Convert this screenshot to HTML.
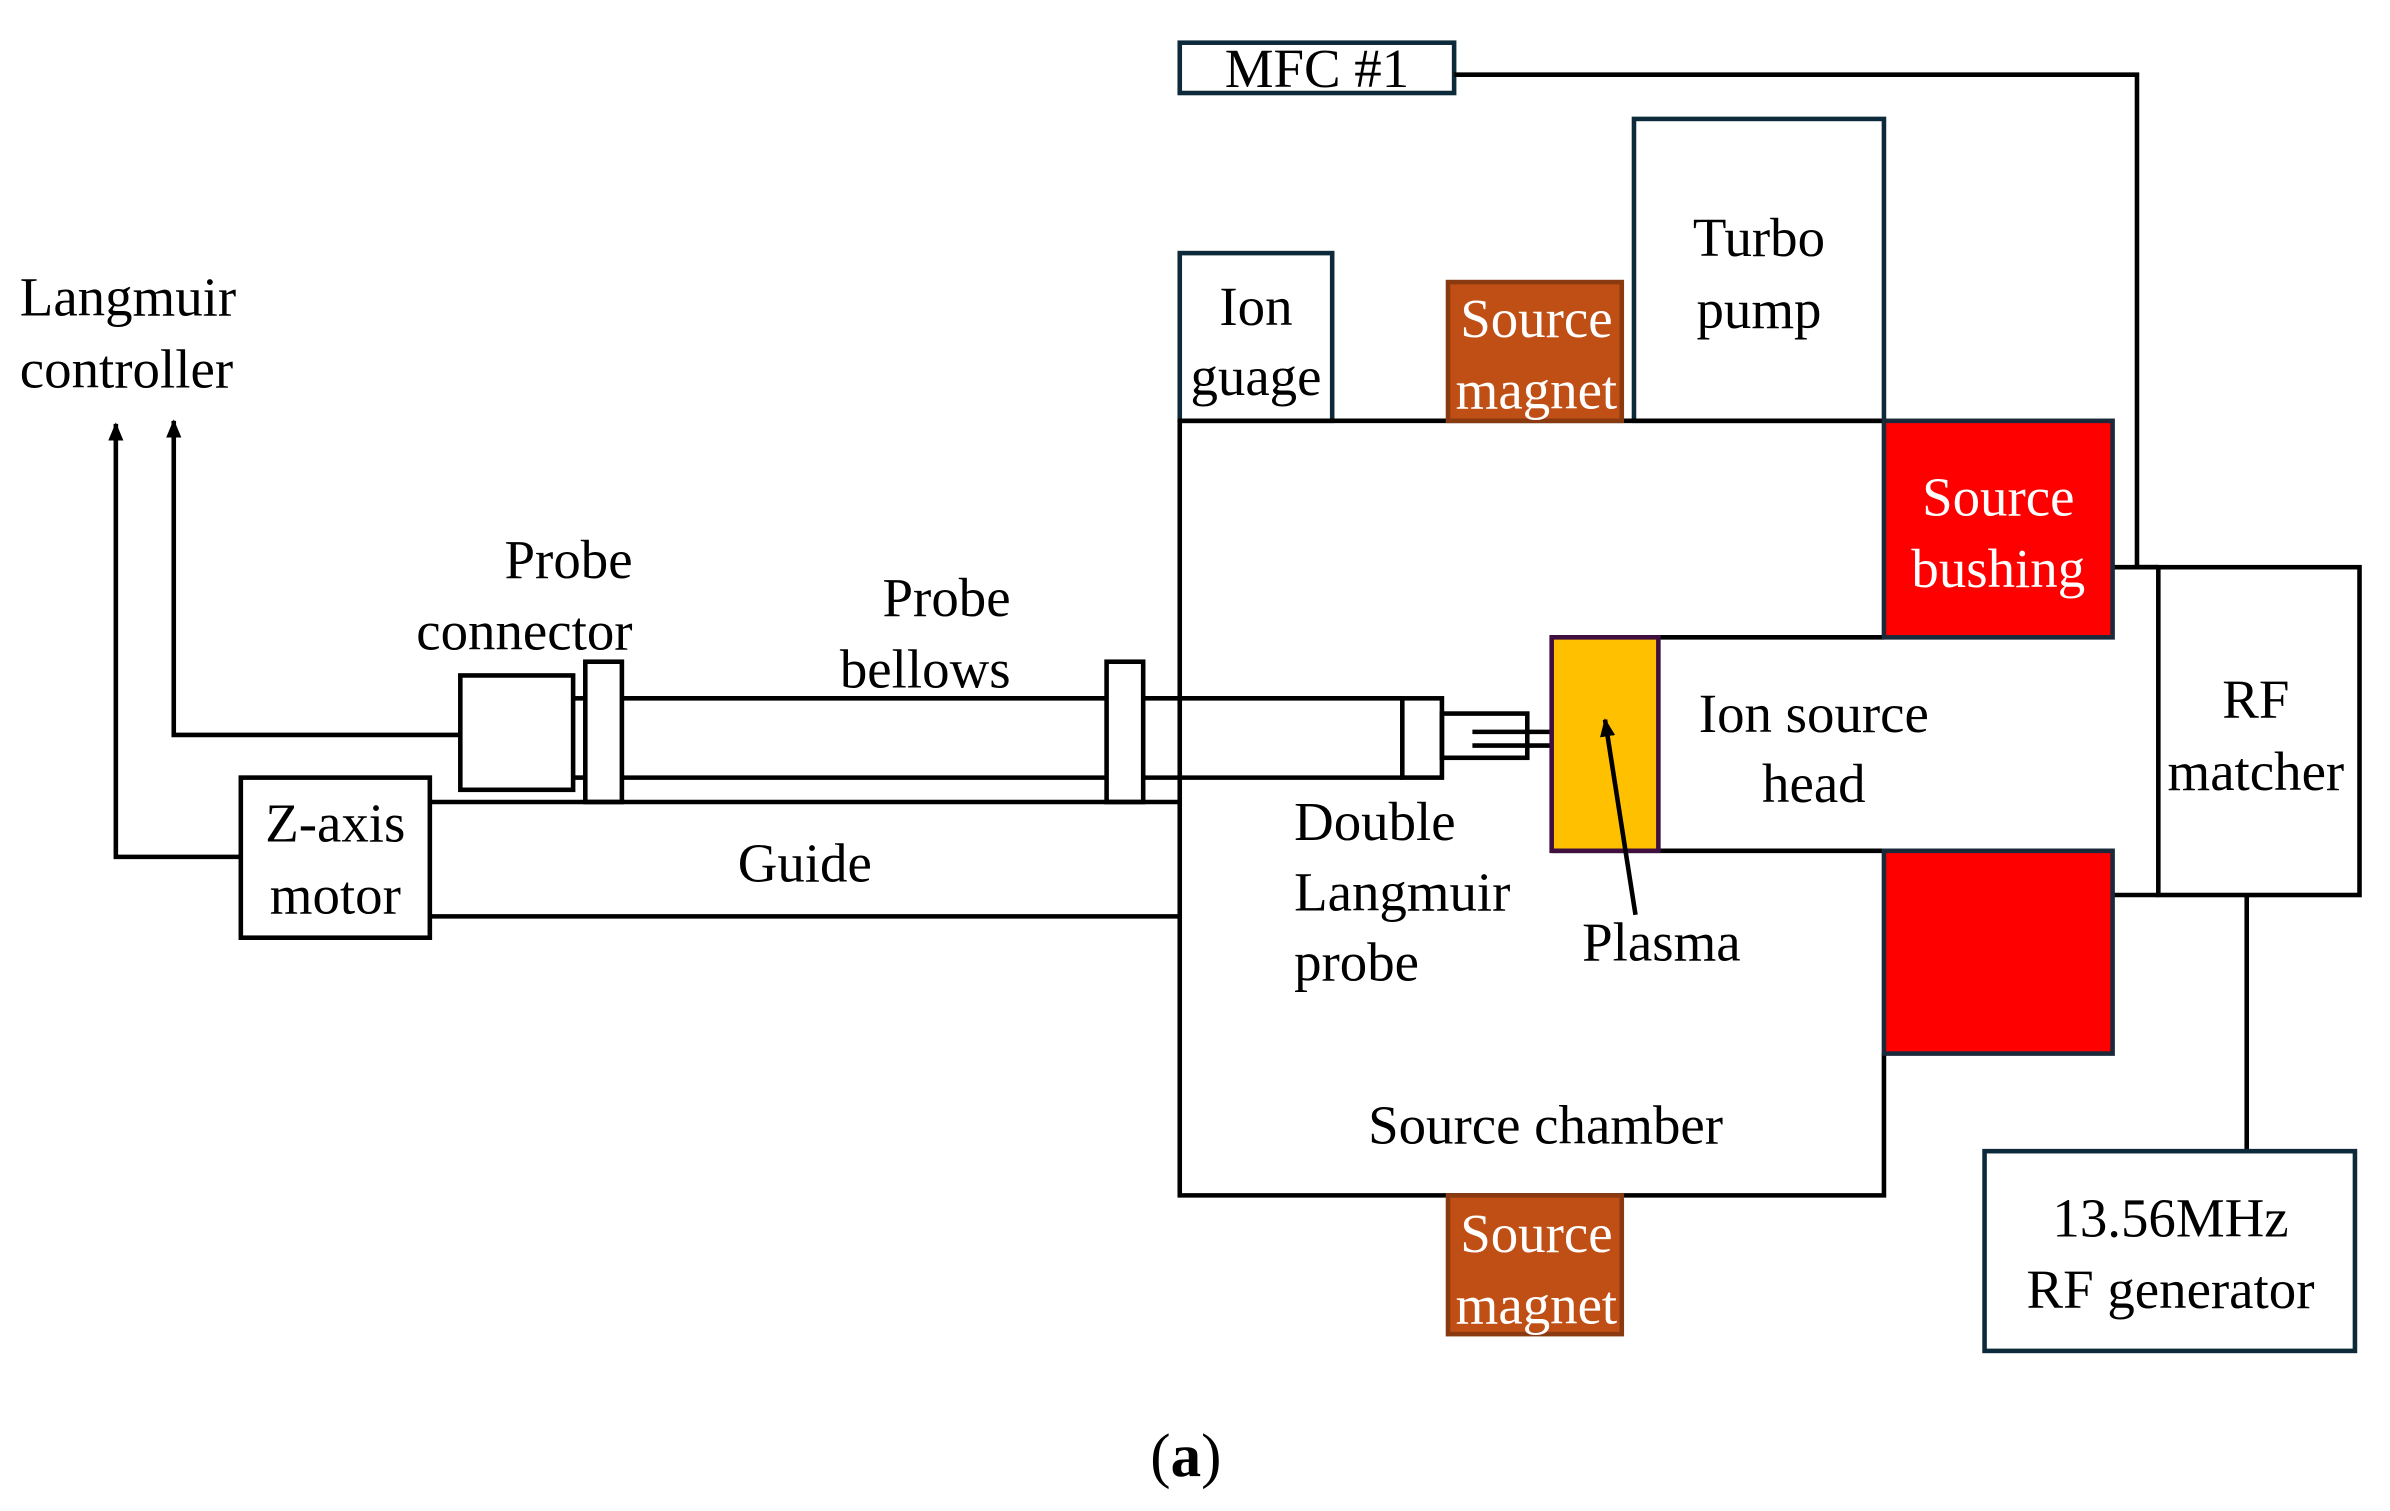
<!DOCTYPE html>
<html><head><meta charset="utf-8"><style>
html,body{margin:0;padding:0;background:#fff;}
svg{display:block;}
text{font-family:"Liberation Serif","DejaVu Serif",serif;font-size:36px;fill:#000;}
.w{fill:#fff;}
</style></head><body>
<svg width="2390" height="1511" viewBox="0 0 1568 991" preserveAspectRatio="none" font-family="Liberation Serif, DejaVu Serif, serif">
<defs><marker id="ar" markerWidth="12" markerHeight="10" refX="11" refY="5" orient="auto" markerUnits="userSpaceOnUse"><path d="M0,0 L12,5 L0,10 Z" fill="#000"/></marker></defs>
<g fill="none" stroke="#000" stroke-width="3">
<rect x="774" y="28" width="180" height="33" stroke="#0d2a3a"/>
<polyline points="954,49 1402,49 1402,372 1416,372"/>
<rect x="1072" y="78" width="164" height="198" stroke="#0d2a3a"/>
<rect x="774" y="166" width="100" height="110" stroke="#0d2a3a"/>
<polyline points="1236,276 774,276 774,784 1236,784 1236,691"/>
<line x1="1018" y1="418" x2="1236" y2="418"/>
<line x1="1018" y1="558" x2="1236" y2="558"/>
<line x1="1386" y1="372" x2="1416" y2="372"/>
<line x1="1386" y1="587" x2="1416" y2="587"/>
<rect x="1416" y="372" width="132" height="215"/>
<line x1="1474" y1="587" x2="1474" y2="755"/>
<rect x="1302" y="755" width="243" height="131" stroke="#0d2a3a"/>
<line x1="408" y1="458" x2="920" y2="458"/>
<line x1="408" y1="510" x2="920" y2="510"/>
<rect x="920" y="458" width="26" height="52"/>
<rect x="946" y="468" width="56" height="29"/>
<line x1="966" y1="480" x2="1018" y2="480"/>
<line x1="966" y1="489" x2="1018" y2="489"/>
<rect x="384" y="434" width="24" height="92" fill="#fff"/>
<rect x="726" y="434" width="24" height="92" fill="#fff"/>
<line x1="376" y1="458" x2="384" y2="458"/>
<line x1="376" y1="510" x2="384" y2="510"/>
<rect x="302" y="443" width="74" height="75"/>
<line x1="282" y1="526" x2="774" y2="526"/>
<line x1="282" y1="601" x2="774" y2="601"/>
<rect x="158" y="510" width="124" height="105"/>
<polyline points="158,562 76,562 76,278" marker-end="url(#ar)"/>
<polyline points="302,482 114,482 114,276" marker-end="url(#ar)"/>
</g>
<rect x="950" y="185" width="114" height="91" fill="#C04F15" stroke="#8a3a10" stroke-width="3"/>
<rect x="950" y="784" width="114" height="91" fill="#C04F15" stroke="#8a3a10" stroke-width="3"/>
<rect x="1236" y="276" width="150" height="142" fill="#FF0000" stroke="#1a2a3a" stroke-width="3"/>
<rect x="1236" y="558" width="150" height="133" fill="#FF0000" stroke="#1a2a3a" stroke-width="3"/>
<rect x="1018" y="418" width="70" height="140" fill="#FFC000" stroke="#3f0f3f" stroke-width="3"/>
<line x1="1073" y1="600" x2="1053" y2="472" stroke="#000" stroke-width="3" marker-end="url(#ar)"/>
<text x="864" y="57" text-anchor="middle">MFC #1</text>
<text x="1154" y="168" text-anchor="middle">Turbo</text>
<text x="1154" y="215" text-anchor="middle">pump</text>
<text x="824" y="213" text-anchor="middle">Ion</text>
<text x="824" y="259" text-anchor="middle">guage</text>
<text class="w" x="1008" y="221" text-anchor="middle">Source</text>
<text class="w" x="1008" y="268" text-anchor="middle">magnet</text>
<text class="w" x="1008" y="821" text-anchor="middle">Source</text>
<text class="w" x="1008" y="868" text-anchor="middle">magnet</text>
<text class="w" x="1311" y="338" text-anchor="middle">Source</text>
<text class="w" x="1311" y="385" text-anchor="middle">bushing</text>
<text x="1190" y="480" text-anchor="middle">Ion source</text>
<text x="1190" y="526" text-anchor="middle">head</text>
<text x="1480" y="471" text-anchor="middle">RF</text>
<text x="1480" y="518" text-anchor="middle">matcher</text>
<text x="1424" y="811" text-anchor="middle">13.56MHz</text>
<text x="1424" y="858" text-anchor="middle">RF generator</text>
<text x="1090" y="630" text-anchor="middle">Plasma</text>
<text x="1014" y="750" text-anchor="middle">Source chamber</text>
<text x="849" y="551">Double</text>
<text x="849" y="597">Langmuir</text>
<text x="849" y="643">probe</text>
<text x="13" y="207">Langmuir</text>
<text x="13" y="254">controller</text>
<text x="415" y="379" text-anchor="end">Probe</text>
<text x="415" y="426" text-anchor="end">connector</text>
<text x="663" y="404" text-anchor="end">Probe</text>
<text x="663" y="451" text-anchor="end">bellows</text>
<text x="220" y="552" text-anchor="middle">Z-axis</text>
<text x="220" y="599" text-anchor="middle">motor</text>
<text x="528" y="578" text-anchor="middle">Guide</text>
<text x="778" y="968" text-anchor="middle" style="font-size:40px">(<tspan font-weight="bold">a</tspan>)</text>
</svg>
</body></html>
